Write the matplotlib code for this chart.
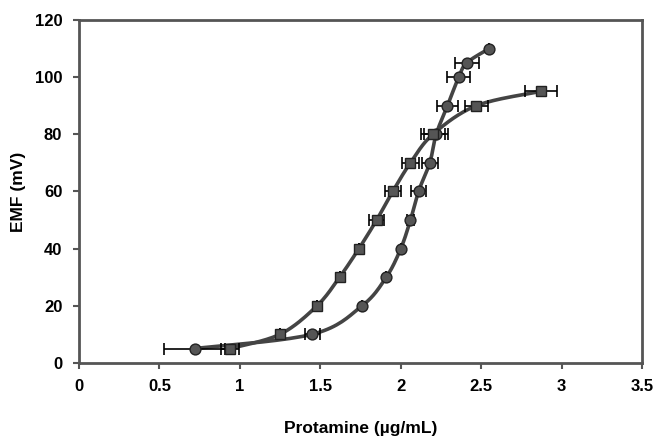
import matplotlib
matplotlib.use("Agg")
import matplotlib.pyplot as plt
import numpy as np

# EMF response vs. protamine concentration, two titration series
emf_a = [5, 10, 20, 30, 40, 50, 60, 70, 80, 90, 100, 105, 110]
conc_a = [0.72, 1.45, 1.76, 1.91, 2.00, 2.06, 2.11, 2.18, 2.22, 2.29, 2.36, 2.41, 2.55]
err_a = [0.19, 0.045, 0.0, 0.0, 0.0, 0.02, 0.045, 0.05, 0.075, 0.065, 0.07, 0.075, 0.0]

emf_b = [5, 10, 20, 30, 40, 50, 60, 70, 80, 90, 95]
conc_b = [0.94, 1.25, 1.48, 1.62, 1.74, 1.85, 1.95, 2.06, 2.20, 2.47, 2.87]
err_b = [0.055, 0.0, 0.0, 0.0, 0.0, 0.045, 0.05, 0.055, 0.075, 0.07, 0.1]

x_ticks = [0, 0.5, 1, 1.5, 2, 2.5, 3, 3.5]
x_tick_labels = ["0", "0.5", "1", "1.5", "2", "2.5", "3", "3.5"]
y_ticks = [0, 20, 40, 60, 80, 100, 120]

plt.rcParams["font.family"] = ["Liberation Sans", "DejaVu Sans"]
plt.rcParams["font.weight"] = "bold"


def smooth(xs, ys, xr, yr, n=20):
    # Catmull-Rom style curve through the points, built in scaled space
    p = np.column_stack([np.asarray(xs) / xr, np.asarray(ys) / yr])
    p = np.vstack([p[0], p, p[-1]])
    out = []
    for i in range(1, len(p) - 2):
        p0, p1, p2, p3 = p[i - 1], p[i], p[i + 1], p[i + 2]
        m1 = (p2 - p0) / 2
        m2 = (p3 - p1) / 2
        t = np.linspace(0, 1, n)[:, None]
        h00 = 2 * t**3 - 3 * t**2 + 1
        h10 = t**3 - 2 * t**2 + t
        h01 = -2 * t**3 + 3 * t**2
        h11 = t**3 - t**2
        out.append(h00 * p1 + h10 * m1 + h01 * p2 + h11 * m2)
    c = np.vstack(out)
    return c[:, 0] * xr, c[:, 1] * yr


fig = plt.figure(figsize=(6.58, 4.43), dpi=100)
ax = fig.add_axes([0.120, 0.181, 0.856, 0.774])

for xs, ys, errs, mk in [(conc_a, emf_a, err_a, "o"), (conc_b, emf_b, err_b, "s")]:
    sx, sy = smooth(xs, ys, 3.5, 120)
    ax.plot(sx, sy, color="#444444", lw=2.6, zorder=2)
    ax.errorbar(xs, ys, xerr=errs, fmt="none", ecolor="black",
                elinewidth=1.2, capsize=4.5, capthick=1.2, zorder=3)
    ax.plot(xs, ys, linestyle="none", marker=mk, ms=7.8 if mk == "o" else 7,
            mfc="#555555", mec="#222222", mew=1.0, zorder=4)

ax.set_xlim(0, 3.5)
ax.set_ylim(0, 120)
ax.set_xticks(x_ticks)
ax.set_xticklabels(x_tick_labels)
ax.set_yticks(y_ticks)
ax.tick_params(axis="both", direction="out", length=4, width=1.5,
               color="#555555", labelsize=12, pad=8)

for s in ax.spines.values():
    s.set_color("#555555")
    s.set_linewidth(2)

ax.set_xlabel("Protamine (\u00b5g/mL)", fontsize=12.5, fontweight="bold", labelpad=19)
ax.set_ylabel("EMF (mV)", fontsize=12.5, fontweight="bold", labelpad=6)

fig.savefig("out.png", dpi=100)
